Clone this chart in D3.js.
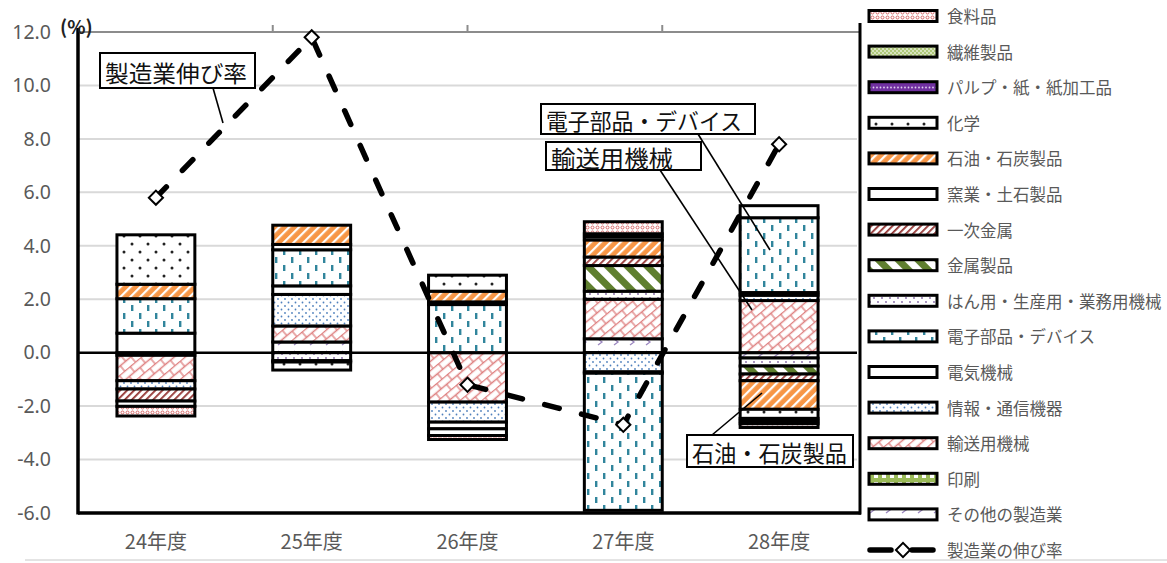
<!DOCTYPE html>
<html>
<head>
<meta charset="utf-8">
<script src="https://cdn.jsdelivr.net/npm/d3@7"></script>
<style>
  body { margin: 0; background: #fff; }
  text { font-family: "Noto Sans CJK JP", "Noto Sans", sans-serif; }
</style>
</head>
<body>
<div id="chart"></div>
<script>
// Data
const categories = ['24年度', '25年度', '26年度', '27年度', '28年度']
const seriesNames = [
  '食料品', '繊維製品', 'パルプ・紙・紙加工品', '化学', '石油・石炭製品',
  '窯業・土石製品', '一次金属', '金属製品', 'はん用・生産用・業務用機械',
  '電子部品・デバイス', '電気機械', '情報・通信機器', '輸送用機械', '印刷', 'その他の製造業'
]
const food      = [-0.36, 0, -0.15, 0.45, -0.14]
const textile   = [0, 0, 0, 0, -0.1]
const pulp      = [0, 0, 0, 0.11, -0.1]
const chemical  = [1.85, -0.3, 0.6, 0.12, -0.34]
const petroleum = [0.54, 0.72, 0.4, 0.64, -1.07]
const ceramic   = [-0.2, 0.2, -0.25, 0, 0.45]
const steel     = [-0.45, 0, 0.1, 0.32, -0.25]
const metal     = [0, -0.05, 0, 0.96, -0.3]
const general   = [0, -0.3, 0, 0.3, -0.3]
const electronic = [1.29, 1.35, 1.8, -5.13, 2.8]
const electrical = [0.73, 0.32, -0.25, -0.05, 0.1]
const info      = [-0.31, 1.18, -0.75, -0.72, 0.2]
const transport = [-0.95, 0.6, -1.85, 1.48, 1.95]
const printing  = [0, 0, 0, 0, 0]
const other     = [-0.1, 0.4, 0, 0.52, -0.2]
const growth    = [5.8, 11.8, -1.2, -2.7, 7.8]
const yTicks = [-6, -4, -2, 0, 2, 4, 6, 8, 10, 12]

const seriesValues = [food, textile, pulp, chemical, petroleum, ceramic, steel, metal,
  general, electronic, electrical, info, transport, printing, other]

const dataset = categories.map((c, i) => {
  const row = { name: c }
  seriesNames.forEach((s, j) => { row[s] = seriesValues[j][i] })
  return row
})

// Dimensions
const width = 1167
const height = 563
const plot = { left: 78, right: 857, top: 32, bottom: 513 }

const svg = d3.select('#chart')
  .append('svg')
  .attr('width', width)
  .attr('height', height)

svg.append('rect').attr('width', width).attr('height', height).attr('fill', '#fff')

// Patterns
const defs = svg.append('defs')
function pattern(id, w, h, bg, draw, transform) {
  const p = defs.append('pattern')
    .attr('id', id)
    .attr('patternUnits', 'userSpaceOnUse')
    .attr('width', w)
    .attr('height', h)
  if (transform) p.attr('patternTransform', transform)
  p.append('rect').attr('width', w).attr('height', h).attr('fill', bg)
  draw(p)
}
const dots = (p, pts, r, c) => pts.forEach(([x, y]) =>
  p.append('circle').attr('cx', x).attr('cy', y).attr('r', r).attr('fill', c))

pattern('p0', 5, 5, '#fff', p => p.append('circle').attr('cx', 2.5).attr('cy', 2.5).attr('r', 1.5)
  .attr('fill', 'none').attr('stroke', '#d05a5a').attr('stroke-width', 0.9))
pattern('p1', 4, 4, '#d7e4bd', p => dots(p, [[1, 1], [3, 3]], 0.9, '#9bbb59'))
pattern('p2', 7, 7, '#7030a0', p => dots(p, [[2, 3.5], [5.5, 3.5]], 0.9, '#e0d0f0'))
pattern('p3', 16, 16, '#fff', p => dots(p, [[4, 4], [12, 12]], 1.5, '#222'))
pattern('p4', 7, 7, '#f79646', p => p.append('rect').attr('width', 2.2).attr('height', 7).attr('fill', '#fff'), 'rotate(45)')
pattern('p5', 4, 4, '#fff', p => {})
pattern('p6', 5, 5, '#fff', p => p.append('rect').attr('width', 1.8).attr('height', 5).attr('fill', '#953735'), 'rotate(45)')
pattern('p7', 14, 14, '#fff', p => p.append('rect').attr('width', 7).attr('height', 14).attr('fill', '#5f7f2f'), 'rotate(-45)')
pattern('p8', 8, 8, '#fff', p => dots(p, [[2, 2], [6, 6]], 0.9, '#8064a2'))
pattern('p9', 16, 16, '#fff', p => {
  p.append('rect').attr('x', 3).attr('y', 1).attr('width', 2.4).attr('height', 6).attr('fill', '#31859c')
  p.append('rect').attr('x', 11).attr('y', 9).attr('width', 2.4).attr('height', 6).attr('fill', '#31859c')
})
pattern('p10', 4, 4, '#fff', p => {})
pattern('p11', 7, 7, '#fff', p => dots(p, [[1.5, 1.5], [5, 5]], 0.9, '#4f81bd'))
pattern('p12', 14, 14, '#fff', p => p.append('path')
  .attr('d', 'M0,0.5H14M0,7.5H14M4,0.5V7.5M11,7.5V14.5')
  .attr('stroke', '#de7f7f').attr('stroke-width', 1.3).attr('fill', 'none'), 'rotate(-40)')
pattern('p13', 8, 8, '#9bbb59', p => p.append('rect').attr('x', 2).attr('y', 2).attr('width', 4).attr('height', 4).attr('fill', '#fff'))
pattern('p14', 16, 12, '#fff', p => p.append('path')
  .attr('d', 'M6,3L10,6L6,9')
  .attr('stroke', '#9b87c0').attr('stroke-width', 1.3).attr('fill', 'none'))

// Scales
const xScale = d3.scaleBand()
  .domain(categories)
  .range([plot.left, plot.right])
  .paddingInner(0.5)
  .paddingOuter(0.25)

const yScale = d3.scaleLinear()
  .domain([-6, 12])
  .range([plot.bottom, plot.top])

const stackKeys = seriesNames.slice().reverse()
const stackData = d3.stack()
  .keys(stackKeys)
  .offset(d3.stackOffsetDiverging)(dataset)

// Gridlines
svg.append('g')
  .selectAll('line')
  .data(yTicks.filter(t => t !== -6 && t !== 0 && t !== 12))
  .join('line')
  .attr('x1', plot.left).attr('x2', plot.right)
  .attr('y1', d => yScale(d)).attr('y2', d => yScale(d))
  .attr('stroke', '#d9d9d9').attr('stroke-width', 2)

// Top secondary axis
const topAxis = svg.append('g').attr('stroke', '#8c8c8c').attr('stroke-width', 2)
topAxis.append('line').attr('x1', plot.left).attr('x2', plot.right + 3)
  .attr('y1', yScale(12)).attr('y2', yScale(12))
topAxis.selectAll('.tk')
  .data([1, 2, 3])
  .join('line')
  .attr('x1', d => plot.left + (plot.right - plot.left) * d / 4)
  .attr('x2', d => plot.left + (plot.right - plot.left) * d / 4)
  .attr('y1', yScale(12)).attr('y2', yScale(12) - 7)

// Bars
const groups = svg.append('g')
  .selectAll('g')
  .data(stackData)
  .join('g')
  .attr('fill', d => `url(#p${seriesNames.indexOf(d.key)})`)

groups.selectAll('rect')
  .data(d => d.filter(s => s[1] - s[0] !== 0))
  .join('rect')
  .attr('x', d => xScale(d.data.name))
  .attr('y', d => yScale(d[1]))
  .attr('width', xScale.bandwidth())
  .attr('height', d => yScale(d[0]) - yScale(d[1]))
  .attr('stroke', '#000')
  .attr('stroke-width', 3)

// Axis lines
svg.append('line')
  .attr('x1', plot.left).attr('x2', plot.right)
  .attr('y1', yScale(0)).attr('y2', yScale(0))
  .attr('stroke', '#000').attr('stroke-width', 2.5)
svg.append('line')
  .attr('x1', plot.left).attr('x2', plot.right + 4)
  .attr('y1', yScale(-6)).attr('y2', yScale(-6))
  .attr('stroke', '#000').attr('stroke-width', 3.5)
svg.append('line')
  .attr('x1', plot.left).attr('x2', plot.left)
  .attr('y1', yScale(12) - 4).attr('y2', yScale(-6) + 1.5)
  .attr('stroke', '#000').attr('stroke-width', 3.5)
svg.append('line')
  .attr('x1', plot.right + 3).attr('x2', plot.right + 3)
  .attr('y1', yScale(12) - 9).attr('y2', yScale(-6) + 1.5)
  .attr('stroke', '#000').attr('stroke-width', 3)

// Axis labels
const yAxis = d3.axisLeft(yScale)
  .tickValues(yTicks)
  .tickFormat(d => d.toFixed(1))
  .tickSize(0)
  .tickPadding(27)
svg.append('g')
  .attr('transform', `translate(${plot.left}, 0)`)
  .call(yAxis)
  .call(g => g.select('.domain').remove())
  .call(g => g.selectAll('text')
    .attr('fill', '#595959')
    .style('font-size', '19.5px')
    .style('font-family', '"Noto Sans", sans-serif'))

const xAxis = d3.axisBottom(xScale).tickSize(0).tickPadding(22)
svg.append('g')
  .attr('transform', `translate(0, ${plot.bottom})`)
  .call(xAxis)
  .call(g => g.select('.domain').remove())
  .call(g => g.selectAll('text')
    .attr('fill', '#595959')
    .style('font-size', '20px'))

svg.append('text')
  .attr('x', 60).attr('y', 34)
  .attr('font-size', 19).attr('font-weight', 'bold')
  .attr('fill', '#222')
  .text('(%)')

// Growth line
const cx = c => xScale(c) + xScale.bandwidth() / 2
const line = d3.line()
  .x((d, i) => cx(categories[i]))
  .y(d => yScale(d))

svg.append('path')
  .datum(growth)
  .attr('d', line)
  .attr('fill', 'none')
  .attr('stroke', '#000')
  .attr('stroke-width', 5.5)
  .attr('stroke-linecap', 'round')
  .attr('stroke-dasharray', '15,23')

const diamond = d3.symbol().type(d3.symbolSquare).size(100)
svg.append('g')
  .selectAll('path')
  .data(growth)
  .join('path')
  .attr('d', diamond)
  .attr('transform', (d, i) => `translate(${cx(categories[i])}, ${yScale(d)}) rotate(45)`)
  .attr('fill', '#fff')
  .attr('stroke', '#000')
  .attr('stroke-width', 2)

// Callouts
const callouts = [
  { text: '製造業伸び率', box: [100, 53, 155, 35], len: 142, from: [213, 88], to: [223, 123] },
  { text: '電子部品・デバイス', box: [541, 104, 214, 30], len: 196, from: [698, 134], to: [770, 250] },
  { text: '輸送用機械', box: [546, 142, 155, 28], len: 122, from: [660, 170], to: [752, 310] },
  { text: '石油・石炭製品', box: [687, 435, 166, 32], len: 155, from: [712, 435], to: [762, 393] }
]
const co = svg.append('g')
co.selectAll('line')
  .data(callouts)
  .join('line')
  .attr('x1', d => d.from[0]).attr('y1', d => d.from[1])
  .attr('x2', d => d.to[0]).attr('y2', d => d.to[1])
  .attr('stroke', '#000').attr('stroke-width', 1.6)
co.selectAll('rect')
  .data(callouts)
  .join('rect')
  .attr('x', d => d.box[0]).attr('y', d => d.box[1])
  .attr('width', d => d.box[2]).attr('height', d => d.box[3])
  .attr('fill', '#fff').attr('stroke', '#000').attr('stroke-width', 2)
co.selectAll('text')
  .data(callouts)
  .join('text')
  .attr('x', d => d.box[0] + 5)
  .attr('y', d => d.box[1] + d.box[3] / 2 + 1)
  .attr('dominant-baseline', 'central')
  .attr('font-size', 23)
  .attr('textLength', d => d.len)
  .attr('lengthAdjust', 'spacingAndGlyphs')
  .attr('fill', '#111')
  .text(d => d.text)

// Legend
const legend = svg.append('g')
const legendY = i => 16 + i * 35.6
legend.selectAll('rect')
  .data(seriesNames)
  .join('rect')
  .attr('x', 869).attr('y', (d, i) => legendY(i) - 5.5)
  .attr('width', 68).attr('height', 11)
  .attr('fill', (d, i) => `url(#p${i})`)
  .attr('stroke', '#000').attr('stroke-width', 3)
legend.selectAll('text')
  .data(seriesNames.concat(['製造業の伸び率']))
  .join('text')
  .attr('x', 947).attr('y', (d, i) => legendY(i))
  .attr('dominant-baseline', 'central')
  .attr('font-size', 16.5)
  .attr('fill', '#595959')
  .text(d => d)

const ly = legendY(seriesNames.length)
legend.append('path')
  .attr('d', `M870,${ly}H891M912,${ly}H933`)
  .attr('stroke', '#000').attr('stroke-width', 5.5).attr('stroke-linecap', 'round')
legend.append('path')
  .attr('d', diamond)
  .attr('transform', `translate(903, ${ly}) rotate(45)`)
  .attr('fill', '#fff').attr('stroke', '#000').attr('stroke-width', 2)

// Bottom rule
svg.append('line')
  .attr('x1', 25).attr('x2', width)
  .attr('y1', 560).attr('y2', 560)
  .attr('stroke', '#c8c8c8').attr('stroke-width', 1)
</script>
</body>
</html>
